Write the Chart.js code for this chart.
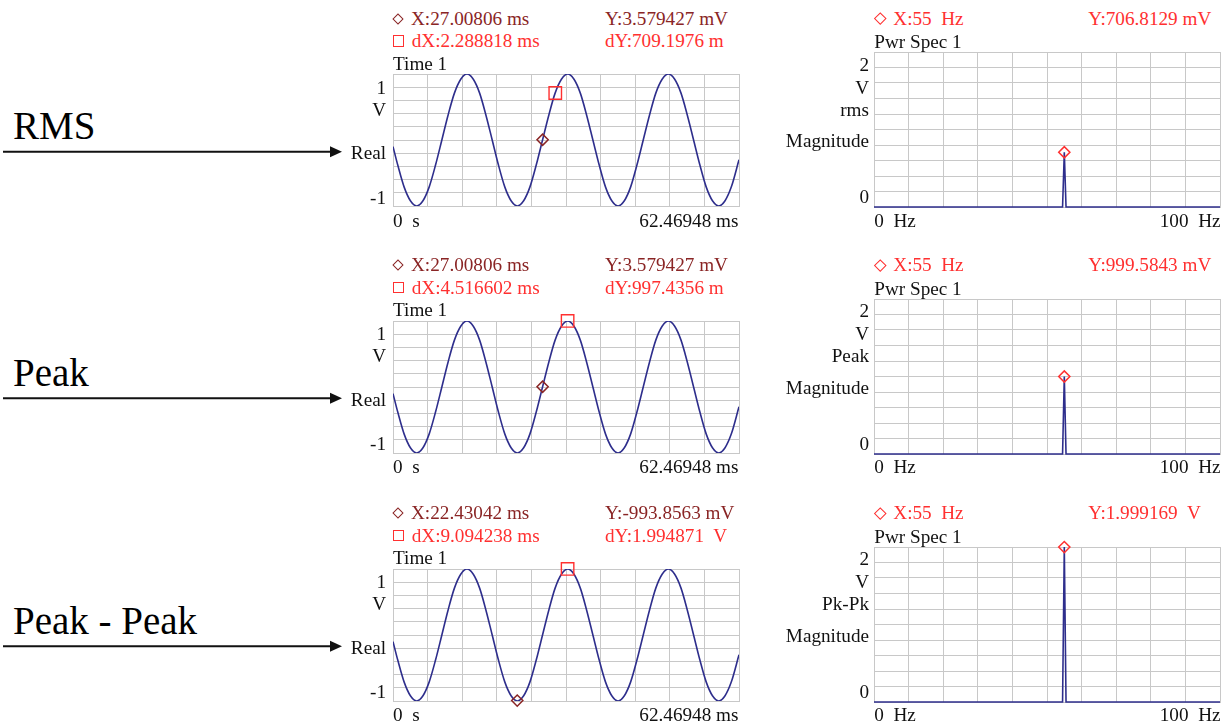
<!DOCTYPE html>
<html>
<head>
<meta charset="utf-8">
<script src="https://cdn.jsdelivr.net/npm/chart.js@4.4.1/dist/chart.umd.min.js"></script>
<style>
  html, body { margin: 0; padding: 0; background: #ffffff; }
  body { width: 1231px; height: 726px; position: relative; overflow: hidden;
         font-family: 'Liberation Serif', 'Times New Roman', serif; }
  .t { position: absolute; white-space: pre; line-height: 1; font-size: 19.2px; color: #111; }
  .big { position: absolute; white-space: pre; line-height: 1; font-size: 39px; color: #000;
         font-family: 'Liberation Serif', 'Times New Roman', serif; }
  canvas { position: absolute; }
  .sym { position: absolute; box-sizing: border-box; }
</style>
</head>
<body>
<svg id="arrows" width="1231" height="726" style="position:absolute;left:0;top:0"></svg>
<script>
// ---------------- DATA ----------------
// Time-domain signal (ms, V)
const timeMs = [0.00, 0.86, 2.00, 3.14, 4.27, 5.41, 6.54, 7.68, 8.82, 9.95, 11.09, 12.23, 13.36, 14.50,
  15.64, 16.77, 17.91, 19.04, 20.18, 21.32, 22.45, 23.59, 24.73, 25.86, 27.00, 28.14, 29.27, 30.41,
  31.54, 32.68, 33.82, 34.95, 36.09, 37.23, 38.36, 39.50, 40.63, 41.77, 42.91, 44.04, 45.18, 46.32,
  47.45, 48.59, 49.73, 50.86, 52.00, 53.13, 54.27, 55.41, 56.54, 57.68, 58.82, 59.95, 61.09, 62.47];
const timeV = [-0.10, -0.38, -0.71, -0.92, -1.00, -0.92, -0.71, -0.38, 0.00, 0.38, 0.71, 0.92, 1.00, 0.92,
  0.71, 0.38, 0.00, -0.38, -0.71, -0.92, -1.00, -0.92, -0.71, -0.38, 0.00, 0.38, 0.71, 0.92,
  1.00, 0.92, 0.71, 0.38, 0.00, -0.38, -0.71, -0.92, -1.00, -0.92, -0.71, -0.38, 0.00, 0.38,
  0.71, 0.92, 1.00, 0.92, 0.71, 0.38, 0.00, -0.38, -0.71, -0.92, -1.00, -0.92, -0.71, -0.30];
const timeMin = 0, timeMax = 62.46948, timeYMin = -1, timeYMax = 1;

// Spectrum (Hz) – a single line at 55 Hz
const freqHz = [0, 54.5, 55, 55.5, 100];
const specPeak = [0.7068129, 0.9995843, 1.999169];   // RMS, Peak, Pk-Pk
const freqMin = 0, freqMax = 100, specYMin = 0, specYMax = 2;

// Cursors per row
const rowNames = ['RMS', 'Peak', 'Peak - Peak'];
const cur1X = [27.00806, 27.00806, 22.43042];
const cur1Y = [0.003579427, 0.003579427, -0.9938563];
const curDX = [2.288818, 4.516602, 9.094238];
const curDY = [0.7091976, 0.9974356, 1.994871];
const specCurX = [55, 55, 55];

// Texts
const hdrX = ['X:27.00806 ms', 'X:27.00806 ms', 'X:22.43042 ms'];
const hdrY = ['Y:3.579427 mV', 'Y:3.579427 mV', 'Y:-993.8563 mV'];
const hdrDX = ['dX:2.288818 ms', 'dX:4.516602 ms', 'dX:9.094238 ms'];
const hdrDY = ['dY:709.1976 m', 'dY:997.4356 m', 'dY:1.994871  V'];
const specHdrX = ['X:55  Hz', 'X:55  Hz', 'X:55  Hz'];
const specHdrY = ['Y:706.8129 mV', 'Y:999.5843 mV', 'Y:1.999169  V'];
const specUnit = ['rms', 'Peak', 'Pk-Pk'];
const timeTitle = 'Time 1', specTitle = 'Pwr Spec 1';
const timeYLabels = ['1', 'V', 'Real', '-1'];
const timeXLabels = ['0  s', '62.46948 ms'];
const specXLabels = ['0  Hz', '100  Hz'];

// ---------------- LAYOUT ----------------
const rowBottom = [206.5, 453, 701];
const timeL = 392.7, timeW = 345.6, timeH = 132.3;
const specL = 874.3, specW = 345.7, specH = 154.5;
const P = 14;
const LINE = '#2E2E8C', GRID = '#C8C8C8', DARKRED = '#8A2525', RED = '#FF3030';

function txt(s, x, y, opts = {}) {
  const d = document.createElement('div');
  d.className = opts.cls || 't';
  d.textContent = s;
  d.style.left = x + 'px';
  d.style.top = y + 'px';
  d.style.transform = opts.right ? 'translate(-100%,-50%)' : 'translate(0,-50%)';
  if (opts.color) d.style.color = opts.color;
  document.body.appendChild(d);
  return d;
}
function sym(kind, cx, cy, size, color) {
  const d = document.createElement('div');
  d.className = 'sym';
  d.style.width = size + 'px'; d.style.height = size + 'px';
  d.style.left = (cx - size / 2) + 'px'; d.style.top = (cy - size / 2) + 'px';
  d.style.border = '1.5px solid ' + color;
  if (kind === 'diamond') d.style.transform = 'rotate(45deg)';
  document.body.appendChild(d);
}
function ticks(min, max) {
  return Array.from({ length: 11 }, (_, i) => ({ value: min + i * (max - min) / 10 }));
}
function axis(min, max, isX) {
  return {
    type: 'linear', min, max,
    ticks: { display: false },
    grid: { color: GRID, lineWidth: 1, drawTicks: false },
    border: { display: true, color: GRID, width: 1 },
    afterBuildTicks: s => { s.ticks = ticks(min, max); },
    afterFit: s => { if (isX) s.height = 0; else s.width = 0; }
  };
}
function makeCanvas(L, T, W, H) {
  const c = document.createElement('canvas');
  c.width = Math.round(W + 2 * P); c.height = Math.round(H + 2 * P);
  c.style.left = (L - P) + 'px'; c.style.top = (T - P) + 'px';
  document.body.appendChild(c);
  return c;
}
const baseOpts = (xmin, xmax, ymin, ymax) => ({
  responsive: false, animation: false, devicePixelRatio: 1,
  layout: { padding: P },
  plugins: { legend: { display: false }, tooltip: { enabled: false } },
  events: [],
  scales: { x: axis(xmin, xmax, true), y: axis(ymin, ymax, false) }
});

const sineData = timeMs.map((t, i) => ({ x: t, y: timeV[i] }));

const svg = document.getElementById('arrows');
let svgHtml = '';

for (let r = 0; r < 3; r++) {
  const b = rowBottom[r];
  // ----- left label & arrow -----
  txt(rowNames[r], 13, b - 69 - 31.8 + 19.5, { cls: 'big' });
  const ay = b - 54.8;
  svgHtml += `<line x1="3" y1="${ay}" x2="332" y2="${ay}" stroke="#111" stroke-width="2"/>`;
  svgHtml += `<polygon points="330,${ay - 5.5} 342,${ay} 330,${ay + 5.5}" fill="#111"/>`;

  // ----- time panel -----
  const tT = b - timeH;
  const c1 = makeCanvas(timeL, tT, timeW, timeH);
  new Chart(c1, {
    type: 'line',
    data: {
      datasets: [
        { data: [{ x: cur1X[r], y: cur1Y[r] }], showLine: false, pointStyle: 'rectRot', pointRadius: 5.6,
          borderColor: DARKRED, backgroundColor: 'rgba(0,0,0,0)', pointBorderWidth: 1.5, clip: false },
        { data: [{ x: cur1X[r] + curDX[r], y: cur1Y[r] + curDY[r] }], showLine: false, pointStyle: 'rect',
          pointRadius: 8.8, borderColor: RED, backgroundColor: 'rgba(0,0,0,0)', pointBorderWidth: 1.4, clip: false },
        { data: sineData, borderColor: LINE, borderWidth: 1.6, pointRadius: 0, cubicInterpolationMode: 'monotone', fill: false }
      ]
    },
    options: baseOpts(timeMin, timeMax, timeYMin, timeYMax)
  });
  // headers
  sym('diamond', 398.3, b - 188, 8, DARKRED);
  txt(hdrX[r], 411, b - 188, { color: DARKRED });
  txt(hdrY[r], 605, b - 188, { color: DARKRED });
  sym('square', 398.3, b - 165.5, 11.5, RED);
  txt(hdrDX[r], 411.7, b - 165.5, { color: RED });
  txt(hdrDY[r], 605, b - 165.5, { color: RED });
  txt(timeTitle, 393, b - 142.8);
  const tyOff = [-119, -96.6, -53.4, -8.6];
  timeYLabels.forEach((s, i) => txt(s, 386, b + tyOff[i], { right: true }));
  txt(timeXLabels[0], 393, b + 14);
  txt(timeXLabels[1], 738.5, b + 14, { right: true });

  // ----- spectrum panel -----
  const sT = b - specH;
  const c2 = makeCanvas(specL, sT, specW, specH);
  const specV = freqHz.map(f => (f === specCurX[r] ? specPeak[r] : 0));
  new Chart(c2, {
    type: 'line',
    data: {
      datasets: [
        { data: [{ x: specCurX[r], y: specPeak[r] }], showLine: false, pointStyle: 'rectRot', pointRadius: 5.6,
          borderColor: RED, backgroundColor: 'rgba(0,0,0,0)', pointBorderWidth: 1.5, clip: false },
        { data: freqHz.map((f, i) => ({ x: f, y: specV[i] })), borderColor: LINE, borderWidth: 1.6,
          pointRadius: 0, tension: 0, fill: false, clip: false }
      ]
    },
    options: baseOpts(freqMin, freqMax, specYMin, specYMax)
  });
  sym('diamond', 880.7, b - 188, 8.5, RED);
  txt(specHdrX[r], 893.3, b - 188, { color: RED });
  txt(specHdrY[r], 1088.3, b - 188, { color: RED });
  txt(specTitle, 874.3, b - 164.5);
  const syLabels = ['2', 'V', specUnit[r], 'Magnitude', '0'];
  const syOff = [-141.8, -119, -96.7, -65.2, -9.5];
  syLabels.forEach((s, i) => txt(s, 869, b + syOff[i], { right: true }));
  txt(specXLabels[0], 874.3, b + 14);
  txt(specXLabels[1], 1220.5, b + 14, { right: true });
}
svg.innerHTML = svgHtml;
</script>
</body>
</html>
